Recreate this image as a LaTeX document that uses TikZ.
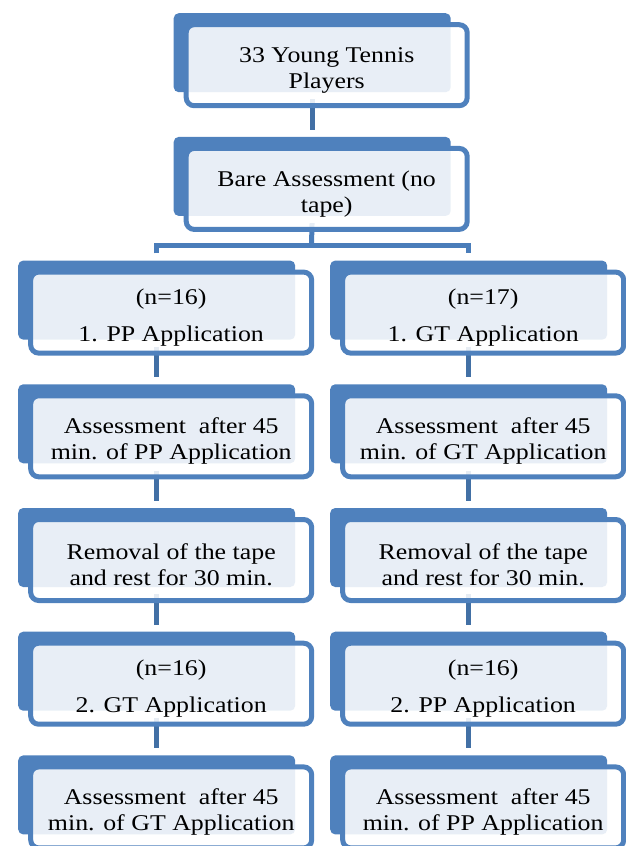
\documentclass[tikz,border=0pt]{standalone}
\usepackage{fontspec}
\setmainfont{Liberation Serif}[FakeStretch=1.15]
\usetikzlibrary{positioning}

\definecolor{tabblue}{HTML}{4F81BD}
\definecolor{linkblue}{HTML}{4270A5}
\definecolor{forkblue}{HTML}{4A7DBA}

% invisible strut, pushes the card text a bit down
\newcommand{\pushdown}{\rule{0pt}{25pt}}

\begin{document}
\begin{tikzpicture}[x=1pt,y=-1pt,
	tab/.style={rectangle, rounded corners=5pt, fill=tabblue, inner sep=0pt,
		minimum width=277pt, minimum height=79pt, anchor=north west},
	card/.style={rectangle, rounded corners=8pt, draw=tabblue, line width=5pt,
		fill=white, fill opacity=0.87, text opacity=1, inner sep=0pt,
		minimum width=281pt, minimum height=81pt, align=center,
		font=\fontsize{22.5}{26}\selectfont, xshift=14.5pt, yshift=-12.5pt},
	link/.style={draw=linkblue, line width=5pt, shorten <=7pt, shorten >=7pt},
	fork/.style={draw=forkblue, line width=5pt, shorten <=7pt, shorten >=7pt}]
		\useasboundingbox (0,0) rectangle (626,846);
		\clip (0,0) rectangle (626,846);
		
		% tabs behind the cards
		\node[tab] (playersTab) at (173.5,13) {};
		\node[tab] (bareTab) at (173.5,136.7) {};
		\node[tab] (ppFirstTab) at (18,260.4) {};
		\node[tab] (gtFirstTab) at (330,260.4) {};
		\node[tab] (ppCheckTab) at (18,384.1) {};
		\node[tab] (gtCheckTab) at (330,384.1) {};
		\node[tab] (leftRestTab) at (18,507.8) {};
		\node[tab] (rightRestTab) at (330,507.8) {};
		\node[tab] (gtSecondTab) at (18,631.5) {};
		\node[tab] (ppSecondTab) at (330,631.5) {};
		\node[tab] (gtFinalTab) at (18,755.2) {};
		\node[tab] (ppFinalTab) at (330,755.2) {};
		
		% connectors
		\coordinate (split) at (311.5,245);
		\draw[link] (playersTab.south) -- (bareTab.north);
		\draw[fork, shorten >=0pt] (bareTab.south) -- (split);
		\draw[fork] (ppFirstTab.north) |- (split) -| (gtFirstTab.north);
		\draw[link] (ppFirstTab.south) -- (ppCheckTab.north);
		\draw[link] (ppCheckTab.south) -- (leftRestTab.north);
		\draw[link] (leftRestTab.south) -- (gtSecondTab.north);
		\draw[link] (gtSecondTab.south) -- (gtFinalTab.north);
		\draw[link] (gtFirstTab.south) -- (gtCheckTab.north);
		\draw[link] (gtCheckTab.south) -- (rightRestTab.north);
		\draw[link] (rightRestTab.south) -- (ppSecondTab.north);
		\draw[link] (ppSecondTab.south) -- (ppFinalTab.north);
		
		% cards with the text
		\node[card] (players) at (playersTab.center) {\pushdown 33 Young Tennis\\Players};
		\node[card] (bare) at (bareTab.center) {\pushdown Bare Assessment (no\\tape)};
		\node[card] (ppFirst) at (ppFirstTab.center) {\pushdown(n=16)\\[11pt]1. PP Application};
		\node[card] (gtFirst) at (gtFirstTab.center) {\pushdown(n=17)\\[11pt]1. GT Application};
		\node[card] (ppCheck) at (ppCheckTab.center) {\pushdown Assessment\ \ after 45\\min. of PP Application};
		\node[card] (gtCheck) at (gtCheckTab.center) {\pushdown Assessment\ \ after 45\\min. of GT Application};
		\node[card] (leftRest) at (leftRestTab.center) {\pushdown Removal of the tape\\and rest for 30 min.};
		\node[card] (rightRest) at (rightRestTab.center) {\pushdown Removal of the tape\\and rest for 30 min.};
		\node[card] (gtSecond) at (gtSecondTab.center) {\pushdown(n=16)\\[11pt]2. GT Application};
		\node[card] (ppSecond) at (ppSecondTab.center) {\pushdown(n=16)\\[11pt]2. PP Application};
		\node[card] (gtFinal) at (gtFinalTab.center) {\pushdown Assessment\ \ after 45\\min. of GT Application};
		\node[card] (ppFinal) at (ppFinalTab.center) {\pushdown Assessment\ \ after 45\\min. of PP Application};
\end{tikzpicture}
\end{document}
